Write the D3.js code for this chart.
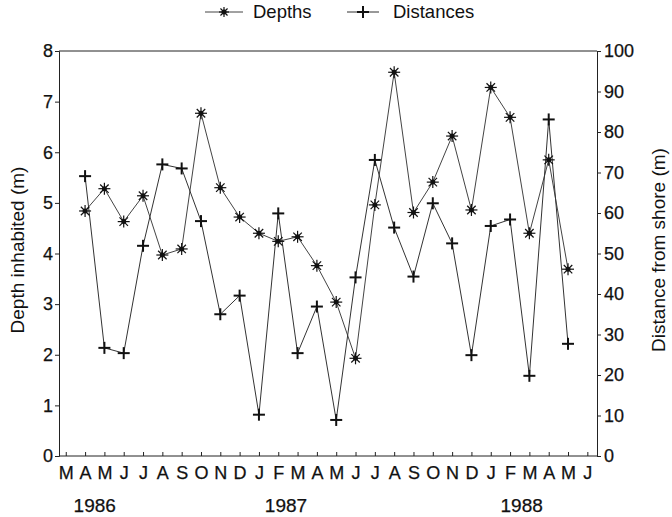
<!DOCTYPE html>
<html>
<head>
<meta charset="utf-8">
<script src="https://cdnjs.cloudflare.com/ajax/libs/d3/7.8.5/d3.min.js"></script>
<style>
  body { margin: 0; background: #fff; }
  text { font-family: "Liberation Sans", Arial, Helvetica, sans-serif; fill: #111; }
</style>
</head>
<body>
<svg id="chart" width="672" height="517"></svg>
<script>
// month ticks, Mar 1986 .. Jun 1988
var monthLabels = ["M","A","M","J","J","A","S","O","N","D","J","F","M","A","M","J",
                   "J","A","S","O","N","D","J","F","M","A","M","J"];
var yearLabels = ["1986", "1987", "1988"];
var yearPos = [1.5, 11.4, 23.6];   // month index under which the year sits

// samples, Apr 1986 .. May 1988 (month index 1..26)
var sampleIdx = d3.range(1, 27);
var depths = [4.84, 5.28, 4.63, 5.14, 3.97, 4.09, 6.77, 5.30, 4.72, 4.40, 4.24, 4.33, 3.76,
              3.04, 1.93, 4.96, 7.58, 4.81, 5.41, 6.32, 4.86, 7.28, 6.69, 4.40, 5.85, 3.69];
var distances = [69.1, 26.7, 25.4, 51.9, 72.0, 71.0, 58.0, 35.0, 39.6, 10.2, 59.9, 25.4, 36.9,
                 8.9, 44.1, 73.1, 56.4, 44.3, 62.4, 52.5, 24.9, 56.8, 58.4, 19.8, 83.1, 27.7];

var svg = d3.select("#chart");
var pLeft = 59, pRight = 597, pTop = 51, pBottom = 456;

var x = d3.scaleLinear().domain([-0.35, 27.5]).range([pLeft, pRight]);
var yDepth = d3.scaleLinear().domain([0, 8]).range([pBottom, pTop]);
var yDist = d3.scaleLinear().domain([0, 100]).range([pBottom, pTop]);

// frame top line
svg.append("line").attr("x1", pLeft).attr("x2", pRight).attr("y1", pTop).attr("y2", pTop)
  .attr("stroke", "#222").attr("stroke-width", 1);

// left axis
var gl = svg.append("g").attr("transform", `translate(${pLeft},0)`)
  .call(d3.axisLeft(yDepth).ticks(8).tickSize(4).tickPadding(2));
// right axis
var gr = svg.append("g").attr("transform", `translate(${pRight},0)`)
  .call(d3.axisRight(yDist).ticks(10).tickSize(4).tickPadding(3));
[gl, gr].forEach(g => {
  g.select(".domain").attr("stroke", "#222");
  g.selectAll(".tick line").attr("stroke", "#222");
  g.selectAll(".tick text").style("font-size", "18px").attr("fill", "#111")
    .attr("stroke", "#111").attr("stroke-width", 0.25);
});

// bottom axis, ticks pointing up
var gb = svg.append("g").attr("transform", `translate(0,${pBottom})`)
  .call(d3.axisBottom(x).tickValues(d3.range(28)).tickSize(-4)
        .tickFormat(i => monthLabels[i]).tickPadding(10));
gb.select(".domain").attr("d", `M${pLeft},0H${pRight}`).attr("stroke", "#222");
gb.selectAll(".tick line").attr("stroke", "#222");
gb.selectAll(".tick text").style("font-size", "18px").attr("fill", "#111")
  .attr("stroke", "#111").attr("stroke-width", 0.25);

// years
svg.selectAll(".year").data(yearLabels).join("text")
  .attr("class", "year")
  .attr("x", (d, i) => x(yearPos[i])).attr("y", 512)
  .attr("text-anchor", "middle").style("font-size", "19px")
  .attr("stroke", "#111").attr("stroke-width", 0.25)
  .text(d => d);

// axis titles
svg.append("text").attr("transform", "translate(24,250) rotate(-90)")
  .attr("text-anchor", "middle").style("font-size", "19px").text("Depth inhabited (m)");
svg.append("text").attr("transform", "translate(665,250) rotate(-90)")
  .attr("text-anchor", "middle").style("font-size", "19px").text("Distance from shore (m)");

// markers
function asterisk(g, r) {
  for (var a = 0; a < 4; a++) {
    var ang = a * Math.PI / 4;
    g.append("line")
      .attr("x1", -r * Math.cos(ang)).attr("y1", -r * Math.sin(ang))
      .attr("x2", r * Math.cos(ang)).attr("y2", r * Math.sin(ang))
      .attr("stroke", "#111").attr("stroke-width", 1.2);
  }
  g.append("circle").attr("r", 2.5).attr("fill", "#111");
}
function plus(g, r) {
  g.append("line").attr("x1", -r).attr("x2", r).attr("y1", 0).attr("y2", 0)
    .attr("stroke", "#111").attr("stroke-width", 2);
  g.append("line").attr("x1", 0).attr("x2", 0).attr("y1", -r).attr("y2", r)
    .attr("stroke", "#111").attr("stroke-width", 2);
}

// lines
var depthLine = d3.line().x((d, i) => x(sampleIdx[i])).y(d => yDepth(d));
var distLine = d3.line().x((d, i) => x(sampleIdx[i])).y(d => yDist(d));

svg.append("path").datum(depths).attr("d", depthLine)
  .attr("fill", "none").attr("stroke", "#444").attr("stroke-width", 1);
svg.append("path").datum(distances).attr("d", distLine)
  .attr("fill", "none").attr("stroke", "#333").attr("stroke-width", 1);

depths.forEach((d, i) => {
  asterisk(svg.append("g").attr("transform", `translate(${x(sampleIdx[i])},${yDepth(d)})`), 6);
});
distances.forEach((d, i) => {
  plus(svg.append("g").attr("transform", `translate(${x(sampleIdx[i])},${yDist(d)})`), 6);
});

// legend
var lg = svg.append("g");
lg.append("line").attr("x1", 205).attr("x2", 243).attr("y1", 12).attr("y2", 12)
  .attr("stroke", "#444").attr("stroke-width", 1);
asterisk(lg.append("g").attr("transform", "translate(224,12)"), 5);
lg.append("text").attr("x", 253).attr("y", 18).style("font-size", "18.5px").text("Depths");
lg.append("line").attr("x1", 347).attr("x2", 379).attr("y1", 12).attr("y2", 12)
  .attr("stroke", "#333").attr("stroke-width", 1);
plus(lg.append("g").attr("transform", "translate(363,12)"), 6);
lg.append("text").attr("x", 393).attr("y", 18).style("font-size", "18.5px").text("Distances");
</script>
</body>
</html>
